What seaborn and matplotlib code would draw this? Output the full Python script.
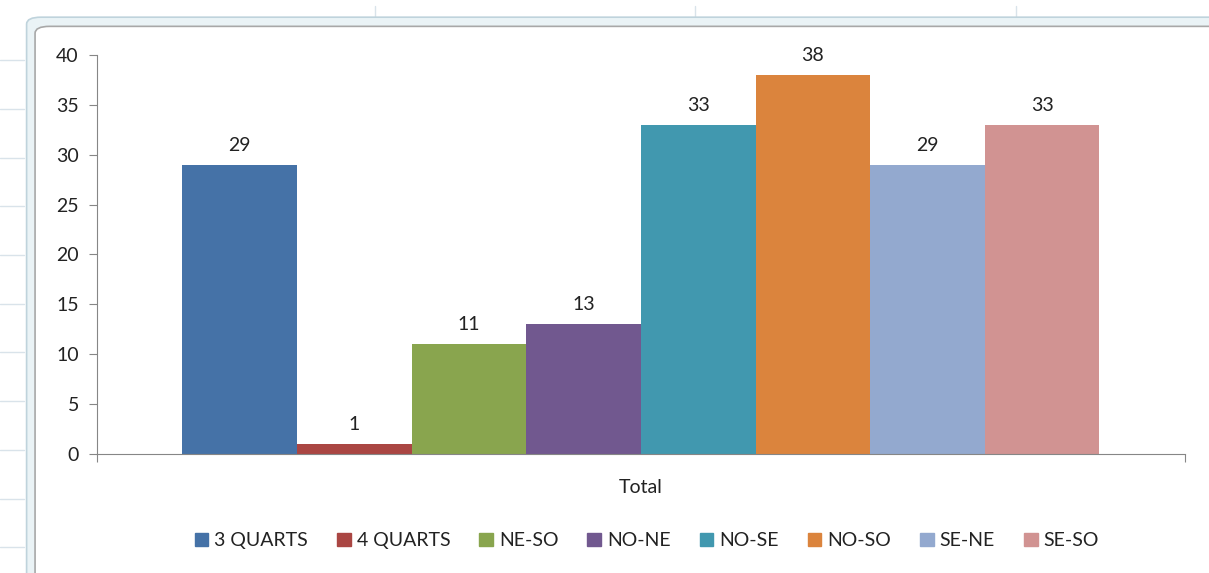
import pandas as pd
import seaborn as sns
import matplotlib.pyplot as plt
from matplotlib.patches import FancyBboxPatch

sns.set_style("white")
plt.rcParams['font.family'] = ['Lato', 'DejaVu Sans']

# data
series = ['3 QUARTS', '4 QUARTS', 'NE-SO', 'NO-NE', 'NO-SE', 'NO-SO', 'SE-NE', 'SE-SO']
values = [29, 1, 11, 13, 33, 38, 29, 33]
colors = ['#4572A7', '#AA4643', '#89A54E', '#71588F', '#4198AF', '#DB843D', '#93A9CF', '#D19392']

df = pd.DataFrame({'cat': ['Total'] * len(series), 'serie': series, 'val': values})

fig = plt.figure(figsize=(12.09, 5.73), dpi=100)

# spreadsheet lines behind the chart object
for yy in [0.895, 0.81, 0.725, 0.64, 0.555, 0.47, 0.385, 0.30, 0.215, 0.13, 0.045]:
    fig.add_artist(plt.Line2D([0, 0.02], [yy, yy], color='#d9e3ea', lw=1, zorder=-3))
for xx in [0.31, 0.575, 0.84]:
    fig.add_artist(plt.Line2D([xx, xx], [0.965, 0.99], color='#d9e3ea', lw=1, zorder=-3))

# chart frame (Excel style)
fig.add_artist(FancyBboxPatch((0.022, -0.05), 1.0, 1.02, boxstyle="round,pad=0,rounding_size=0.012",
                              transform=fig.transFigure, fc='#eaf3f6', ec='#bfd3dc', lw=1.2, zorder=-2))
fig.add_artist(FancyBboxPatch((0.029, -0.05), 1.0, 1.004, boxstyle="round,pad=0,rounding_size=0.012",
                              transform=fig.transFigure, fc='white', ec='#a8a8a8', lw=1.2, zorder=-1))

ax = fig.add_axes([0.0802, 0.2077, 0.8998, 0.6963])
ax.set_facecolor('none')

sns.barplot(data=df, x='cat', y='val', hue='serie', palette=colors,
            width=0.843, ax=ax, legend=False, saturation=1, linewidth=0)

for container in ax.containers:
    ax.bar_label(container, padding=8, fontsize=14, color='#222222')

ax.set_ylim(0, 40)
ax.set_xlim(-0.5, 0.5)
ax.set_yticks(range(0, 41, 5))
ax.set_xticks([-0.5, 0.5])
ax.set_xticklabels(['', ''])
ax.tick_params(axis='y', labelsize=14, length=6, color='#868686', direction='out', left=True, pad=7,
               labelcolor='#222222')
ax.tick_params(axis='x', length=6, color='#868686', direction='out', bottom=True)
ax.set_xlabel('')
ax.set_ylabel('')
ax.text(0.0, -0.085, 'Total', transform=ax.get_xaxis_transform(), ha='center', va='center',
        fontsize=14, color='#222222')

sns.despine(ax=ax, top=True, right=True)
ax.spines['left'].set_color('#868686')
ax.spines['bottom'].set_color('#868686')

handles = [plt.Rectangle((0, 0), 1, 1, color=c) for c in colors]
fig.legend(handles, series, loc='center', bbox_to_anchor=(0.535, 0.056), ncol=8, frameon=False,
           fontsize=14, handlelength=0.7, handleheight=0.7, handletextpad=0.3, columnspacing=1.5,
           labelcolor='#222222')

plt.savefig('out.png', dpi=100)
